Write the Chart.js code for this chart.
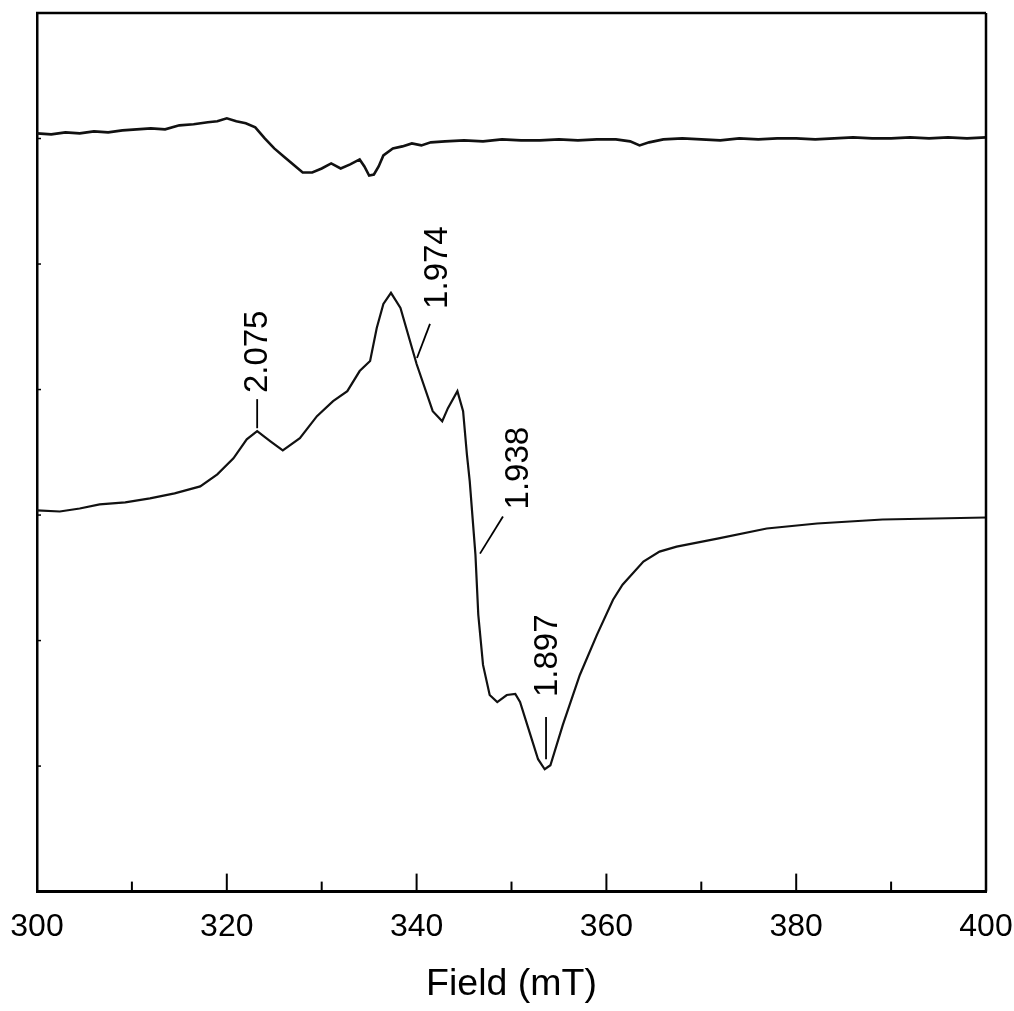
<!DOCTYPE html>
<html>
<head>
<meta charset="utf-8">
<script src="https://cdn.jsdelivr.net/npm/chart.js@4/dist/chart.umd.min.js"></script>
<style>
  html, body { margin: 0; padding: 0; background: #fff; }
  #wrap { width: 1014px; height: 1011px; position: relative; }
</style>
</head>
<body>
<div id="wrap"><canvas id="c" width="1014" height="1011"></canvas></div>
<script>
// ---- Data (intensity in arbitrary units) ----
const fieldTop = [300.0, 301.5, 303.0, 304.5, 306.0, 307.5, 309.0, 310.5, 312.0, 313.5, 315.0, 316.5, 318.0, 319.0, 320.0, 321.0, 322.0, 323.0, 324.0, 325.0, 326.0, 327.0, 328.0, 329.0, 330.0, 331.0, 332.0, 333.0, 334.0, 334.5, 335.0, 335.5, 336.0, 336.5, 337.5, 338.5, 339.5, 340.5, 341.5, 343.0, 345.0, 347.0, 349.0, 351.0, 353.0, 355.0, 357.0, 359.0, 361.0, 362.5, 363.5, 364.5, 366.0, 368.0, 370.0, 372.0, 374.0, 376.0, 378.0, 380.0, 382.0, 384.0, 386.0, 388.0, 390.0, 392.0, 394.0, 396.0, 398.0, 400.0];
const signalTop = [756, 755, 757, 756, 758, 757, 759, 760, 761, 760, 764, 765, 767, 768, 771, 768, 766, 762, 751, 741, 733, 725, 717, 717, 721, 726, 721, 725, 730, 723, 714, 715, 723, 734, 741, 743, 746, 744, 747, 748, 749, 748, 750, 749, 749, 750, 749, 750, 750, 748, 744, 747, 750, 751, 750, 749, 751, 750, 751, 751, 750, 751, 752, 751, 751, 752, 751, 752, 751, 752];

const fieldBottom = [300.0, 302.4, 304.5, 306.6, 309.3, 311.9, 314.5, 317.2, 319.0, 320.7, 322.1, 323.2, 324.6, 325.9, 327.7, 329.5, 331.2, 332.7, 334.0, 335.1, 335.8, 336.5, 337.3, 338.3, 340.0, 341.7, 342.7, 343.3, 344.3, 344.9, 345.3, 345.6, 346.2, 346.5, 347.0, 347.7, 348.5, 349.5, 350.4, 350.9, 351.9, 352.8, 353.5, 354.1, 355.4, 357.2, 359.0, 360.7, 361.7, 363.9, 365.6, 367.4, 371.7, 376.9, 382.2, 389.1, 394.6, 400.0];
const signalBottom = [380, 379, 382, 386, 388, 392, 397, 404, 416, 432, 451, 459, 449, 440, 452, 474, 489, 499, 519, 529, 562, 586, 597, 582, 526, 479, 469, 482, 499, 479, 436, 409, 336, 276, 226, 196, 189, 196, 197, 189, 159, 132, 122, 126, 166, 216, 256, 291, 306, 329, 339, 344, 352, 362, 367, 371, 372, 373];

const xTickLabels = [300, 320, 340, 360, 380, 400];
const gLabels = ['2.075', '1.974', '1.938', '1.897'];

// annotation placement in data coordinates (field, intensity)
const annotationLayout = [
  { text: [324.24, 497], line: [[323.2, 491], [323.2, 462]] },
  { text: [343.20, 581], line: [[341.41, 566], [340.04, 532]] },
  { text: [351.74, 381], line: [[349.10, 374], [346.68, 337]] },
  { text: [354.79, 194], line: [[353.64, 174], [353.64, 132]] }
];

const FONT = "'Liberation Sans', Arial, Helvetica, sans-serif";

const framePlugin = {
  id: 'frame',
  afterDatasetsDraw(chart) {
    const ctx = chart.ctx;
    const a = chart.chartArea;
    const xs = chart.scales.x, ys = chart.scales.y;
    ctx.save();
    ctx.strokeStyle = '#000';
    ctx.lineCap = 'butt';
    ctx.lineWidth = 2.5;
    ctx.beginPath();
    ctx.moveTo(a.left - 1, a.top); ctx.lineTo(a.right, a.top);
    ctx.moveTo(a.right, a.top); ctx.lineTo(a.right, a.bottom);
    ctx.stroke();
    ctx.lineWidth = 2;
    xs.ticks.forEach(t => {
      const px = xs.getPixelForValue(t.value);
      const len = xTickLabels.includes(t.value) ? 18 : 10;
      ctx.beginPath(); ctx.moveTo(px, a.bottom); ctx.lineTo(px, a.bottom - len); ctx.stroke();
    });
    ctx.lineWidth = 1.5;
    ys.ticks.forEach(t => {
      const py = ys.getPixelForValue(t.value);
      ctx.beginPath(); ctx.moveTo(a.left, py); ctx.lineTo(a.left + 4, py); ctx.stroke();
    });
    ctx.fillStyle = '#000';
    ctx.lineWidth = 1.8;
    ctx.font = '33px ' + FONT;
    annotationLayout.forEach((an, i) => {
      const [p0, p1] = an.line;
      ctx.beginPath();
      ctx.moveTo(xs.getPixelForValue(p0[0]), ys.getPixelForValue(p0[1]));
      ctx.lineTo(xs.getPixelForValue(p1[0]), ys.getPixelForValue(p1[1]));
      ctx.stroke();
      const tx = xs.getPixelForValue(an.text[0]);
      const ty = ys.getPixelForValue(an.text[1]);
      ctx.save();
      ctx.translate(tx, ty);
      ctx.rotate(-Math.PI / 2);
      ctx.textAlign = 'left';
      ctx.textBaseline = 'alphabetic';
      ctx.fillText(gLabels[i], 0, 0);
      ctx.restore();
    });
    ctx.restore();
  }
};

new Chart(document.getElementById('c'), {
  type: 'line',
  data: {
    datasets: [
      {
        data: fieldTop.map((f, i) => ({ x: f, y: signalTop[i] })),
        borderColor: '#111', borderWidth: 2.6, pointRadius: 0, tension: 0
      },
      {
        data: fieldBottom.map((f, i) => ({ x: f, y: signalBottom[i] })),
        borderColor: '#111', borderWidth: 2.2, pointRadius: 0, tension: 0
      }
    ]
  },
  options: {
    responsive: false,
    animation: false,
    events: [],
    layout: { padding: { left: 37, right: 28, top: 13, bottom: 0 } },
    plugins: { legend: { display: false }, tooltip: { enabled: false } },
    scales: {
      x: {
        type: 'linear', min: 300, max: 400,
        afterFit(scale) { scale.paddingLeft = 0; scale.paddingRight = 0; },
        border: { display: true, color: '#000', width: 3 },
        grid: { display: true, drawOnChartArea: false, drawTicks: false },
        ticks: {
          stepSize: 10, autoSkip: false, maxRotation: 0, padding: 16,
          color: '#000', font: { family: FONT, size: 32 },
          callback: v => xTickLabels.includes(v) ? String(v) : ''
        },
        title: { display: true, text: 'Field (mT)', color: '#000',
                 font: { family: FONT, size: 37.5 }, padding: { top: 0, bottom: 4 } }
      },
      y: {
        type: 'linear', min: 0, max: 876,
        afterFit(scale) { scale.width = 0; },
        border: { display: true, color: '#000', width: 2.5 },
        grid: { display: true, drawOnChartArea: false, drawTicks: false },
        ticks: { display: false, stepSize: 876 / 7 }
      }
    }
  },
  plugins: [framePlugin]
});
</script>
</body>
</html>
